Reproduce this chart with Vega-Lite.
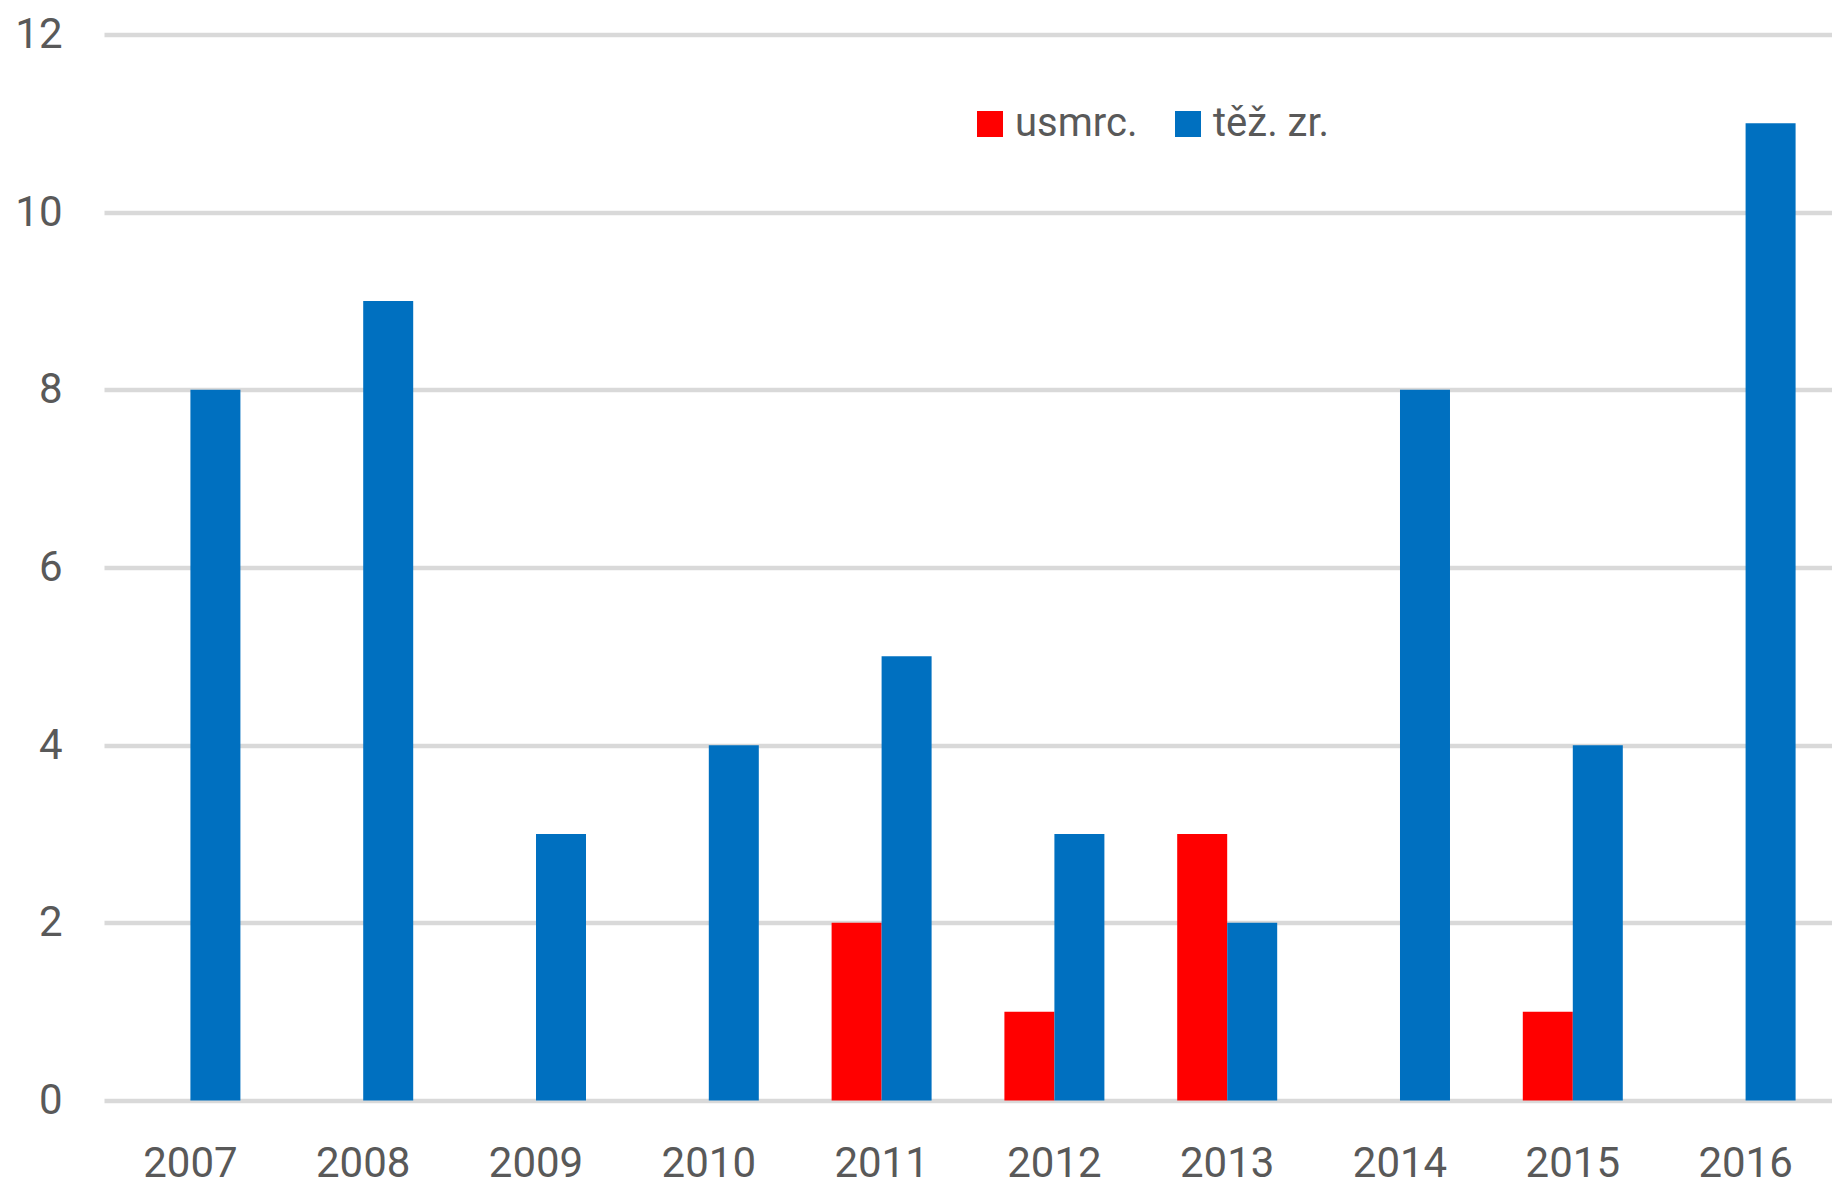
{
  "$schema": "https://vega.github.io/schema/vega-lite/v6.json",
  "autosize": {"type": "none"},
  "padding": {"left": 104, "top": 34.5, "right": 0, "bottom": 91.5},
  "width": 1728,
  "height": 1066,
  "background": "white",
  "config": {
    "view": {"stroke": null},
    "font": "Roboto",
    "axis": {"labelFont": "Roboto", "labelColor": "#595959", "labelFontSize": 42},
    "legend": {"labelFont": "Roboto", "labelColor": "#595959", "labelFontSize": 40}
  },
  "data": {
    "values": [
      {"rok": "2007", "serie": "těž. zr.", "pocet": 8},
      {"rok": "2008", "serie": "těž. zr.", "pocet": 9},
      {"rok": "2009", "serie": "těž. zr.", "pocet": 3},
      {"rok": "2010", "serie": "těž. zr.", "pocet": 4},
      {"rok": "2011", "serie": "usmrc.", "pocet": 2},
      {"rok": "2011", "serie": "těž. zr.", "pocet": 5},
      {"rok": "2012", "serie": "usmrc.", "pocet": 1},
      {"rok": "2012", "serie": "těž. zr.", "pocet": 3},
      {"rok": "2013", "serie": "usmrc.", "pocet": 3},
      {"rok": "2013", "serie": "těž. zr.", "pocet": 2},
      {"rok": "2014", "serie": "těž. zr.", "pocet": 8},
      {"rok": "2015", "serie": "usmrc.", "pocet": 1},
      {"rok": "2015", "serie": "těž. zr.", "pocet": 4},
      {"rok": "2016", "serie": "těž. zr.", "pocet": 11}
    ]
  },
  "mark": {"type": "bar"},
  "encoding": {
    "x": {
      "field": "rok", "type": "nominal",
      "scale": {"paddingInner": 0.4213, "paddingOuter": 0.2107},
      "axis": {"title": null, "labelAngle": 0, "ticks": false, "domain": false, "labelPadding": 76, "labelBaseline": "alphabetic"}
    },
    "xOffset": {
      "field": "serie", "type": "nominal",
      "scale": {"domain": ["usmrc.", "těž. zr."], "paddingInner": 0, "paddingOuter": 0}
    },
    "y": {
      "field": "pocet", "type": "quantitative",
      "scale": {"domain": [0, 12], "nice": false},
      "axis": {"title": null, "values": [0, 2, 4, 6, 8, 10, 12], "ticks": false, "domain": false, "labelPadding": 42, "gridColor": "#D9D9D9", "gridWidth": 4.5}
    },
    "color": {
      "field": "serie", "type": "nominal",
      "scale": {"domain": ["usmrc.", "těž. zr."], "range": ["#FF0000", "#0070C0"]},
      "legend": {
        "title": null, "orient": "none", "direction": "horizontal",
        "legendX": 866, "legendY": 69.5, "padding": 0,
        "symbolType": "square", "symbolSize": 676, "symbolStrokeWidth": 0,
        "labelOffset": 5, "columnPadding": 30
      }
    }
  }
}
